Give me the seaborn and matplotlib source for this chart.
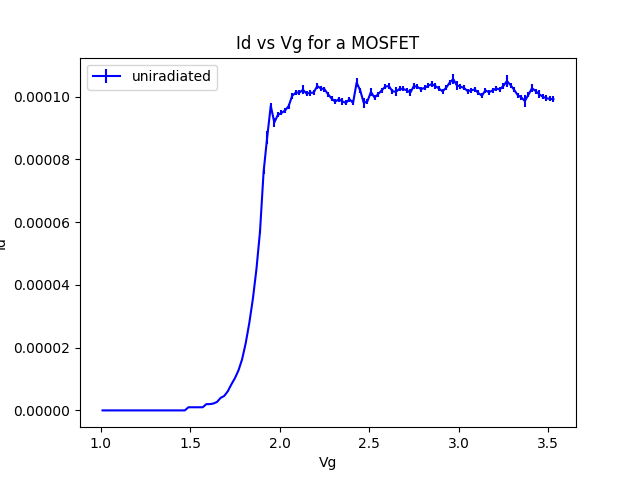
import numpy as np
import pandas as pd
import seaborn as sns
import matplotlib
matplotlib.use("Agg")
from matplotlib import pyplot as plt

# Gate voltage sweep, 0.02 V steps
vg = [round(1.01 + 0.02 * i, 2) for i in range(127)]

# Drain current in microamps
id_ua = [0] * 24 + [
    1, 1, 1, 1, 1, 2, 2, 2.2, 2.7, 4.0,
    4.6, 6.1, 8.3, 10.3, 12.8, 16.3, 21.4, 27.8, 35.5, 45.0,
    57.0, 76.0, 87.0, 97.1, 91.8, 94.2, 94.8, 95.6, 97.0, 100.3,
    101.3, 101.3, 102.2, 101.0, 101.2, 101.3, 103.4, 102.6, 102.4, 100.8,
    99.4, 98.4, 99.2, 98.5, 98.0, 99.2, 98.0, 104.5, 102.0, 98.0,
    98.5, 101.5, 99.7, 100.8, 102.0, 103.2, 103.4, 101.7, 101.6, 102.5,
    102.5, 102.0, 101.3, 103.4, 103.1, 102.4, 102.8, 103.5, 104.0, 103.4,
    102.6, 101.7, 102.8, 104.5, 105.6, 103.6, 103.2, 102.8, 101.8, 102.0,
    102.3, 101.2, 100.3, 102.0, 101.4, 102.0, 102.6, 102.3, 103.4, 105.0,
    103.7, 102.2, 100.5, 99.8, 98.6, 100.6, 102.7, 101.8, 100.8, 100.0,
    99.5, 99.3, 99.2,
]

# Uncertainty on the drain current in microamps
err_ua = [0] * 44 + [
    0.5, 0.8, 2.0, 0.8, 1.5, 0.8, 0.8, 0.8, 0.8, 1.0,
    0.8, 0.8, 1.5, 0.8, 1.0, 0.8, 1.0, 0.8, 0.8, 0.8,
    0.8, 0.8, 0.8, 1.0, 0.8, 0.8, 0.8, 1.5, 0.8, 1.5,
    0.8, 1.2, 0.8, 0.8, 0.8, 0.8, 1.0, 0.8, 1.5, 0.8,
    0.8, 0.8, 1.0, 0.8, 0.8, 0.8, 0.8, 0.8, 1.0, 0.8,
    0.8, 0.8, 0.8, 0.8, 1.5, 1.5, 0.8, 0.8, 0.8, 0.8,
    0.8, 0.8, 0.8, 0.8, 0.8, 0.8, 0.8, 0.8, 0.8, 1.8,
    0.8, 0.8, 0.8, 0.8, 1.8, 0.8, 1.2, 0.8, 1.2, 0.8,
    1.0, 0.8, 1.0,
]

df = pd.DataFrame({
    "Vg": vg,
    "Id": np.array(id_ua) * 1e-6,
    "err": np.array(err_ua) * 1e-6,
})

fig, ax = plt.subplots(figsize=(6.4, 4.8), dpi=100)
ax.errorbar(df["Vg"], df["Id"], yerr=df["err"], color="blue", label="uniradiated")
ax.set_title("Id vs Vg for a MOSFET")
ax.set_xlabel("Vg")
ax.set_ylabel("Id")
ax.legend(loc="upper left")
fig.savefig("out.png")
